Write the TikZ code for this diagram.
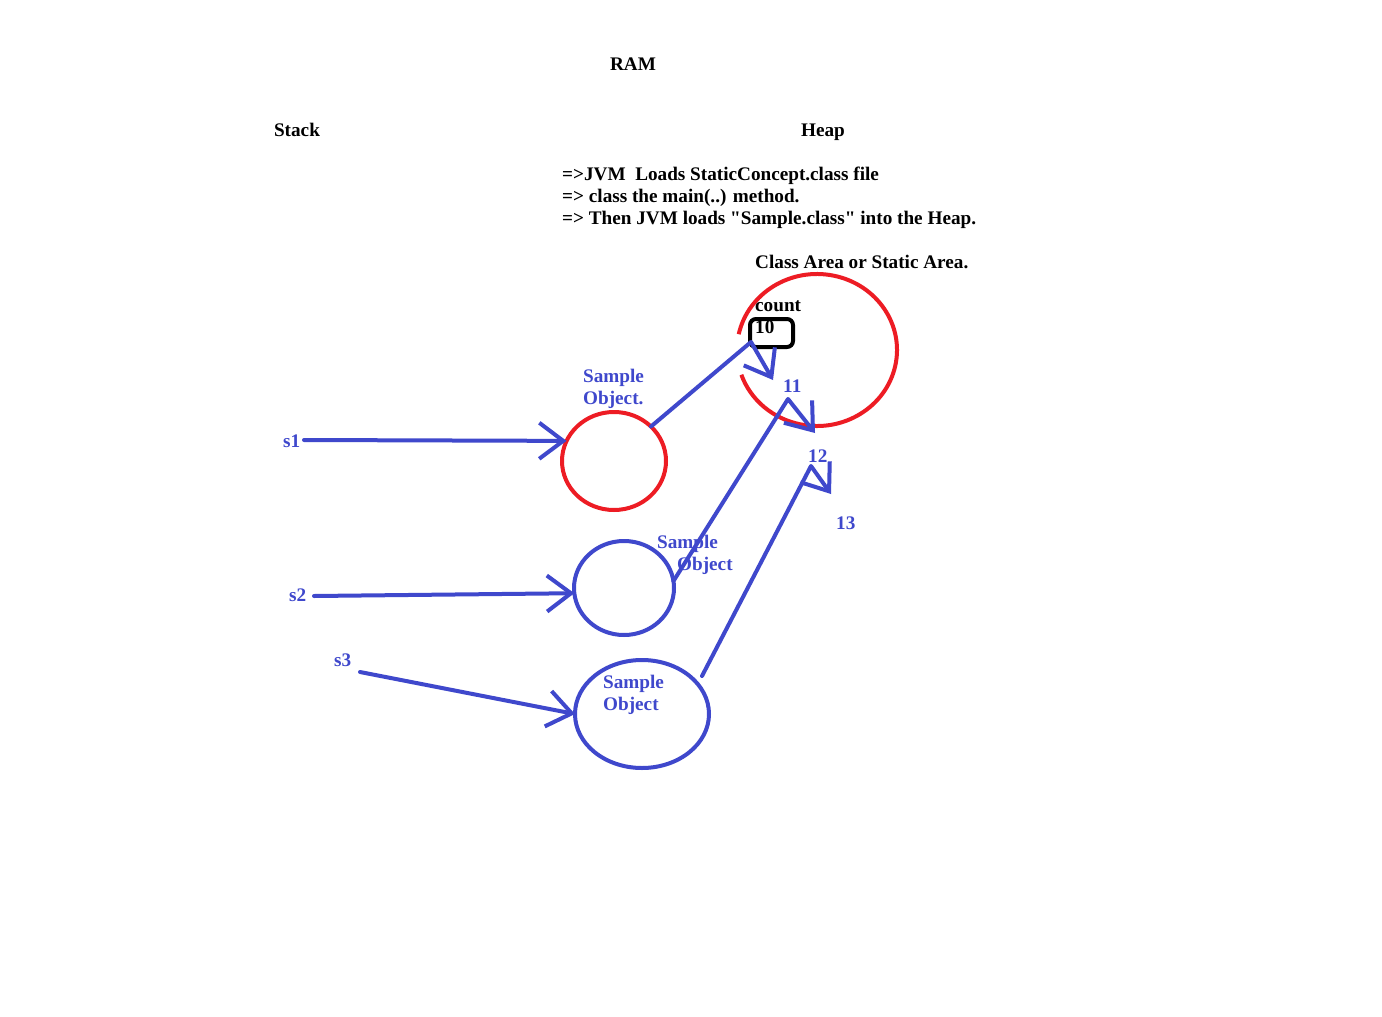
\documentclass[tikz,border=0pt]{standalone}
\usepackage{fontspec}
\setmainfont{Liberation Serif}[Ligatures=TeXOff]
\usetikzlibrary{arrows.meta,shapes.geometric}
\definecolor{pblue}{HTML}{3F48CC}
\definecolor{pred}{HTML}{ED1C24}
\begin{document}
\begin{tikzpicture}[x=1pt,y=-1pt,
  lbl/.style={inner sep=0pt, font=\fontsize{19.2}{22}\selectfont\bfseries, anchor=base west},
  blbl/.style={lbl, text=pblue},
  conn/.style={draw=pblue, line width=4pt, line cap=round, line join=round},
  arr/.style={conn, -{Straight Barb[length=24pt,width=36pt]}},
  ring/.style={ellipse, draw, line width=4pt, inner sep=0pt, outer sep=0pt}
]
\useasboundingbox (0,0) rectangle (1382,1017);
\fill[white] (0,0) rectangle (1382,1017);

% titles
\node[lbl, anchor=base] (ram) at (633,70) {RAM};
\node[lbl, anchor=base] (stack) at (297,136) {Stack};
\node[lbl, anchor=base] (heap) at (823,136) {Heap};
\node[lbl] (l1) at (562,180) {=>JVM\ \ Loads StaticConcept.class file};
\node[lbl] (l2) at (562,202) {=> class the main(..) method.};
\node[lbl] (l3) at (562,224) {=> Then JVM loads "Sample.class" into the Heap.};
\node[lbl] (area) at (755,268) {Class Area or Static Area.};

% class area
\draw[pred, line width=4pt] (817,350) ++(192:80 and 76)
  arc[start angle=192, end angle=521, x radius=80, y radius=76];
\node[draw, line width=4pt, rounded corners=6pt, minimum width=43pt, minimum height=28pt, inner sep=0pt] (box) at (771.5,333) {};
\node[lbl] (count) at (755,311) {count};
\node[lbl] (v10) at (755,333) {10};
\node[blbl] (v11) at (783,392) {11};
\node[blbl] (v12) at (808,462) {12};
\node[blbl] (v13) at (836,529) {13};

% objects
\node[ring, draw=pred, minimum width=104pt, minimum height=98pt] (o1) at (614,461) {};
\node[ring, draw=pblue, minimum width=100pt, minimum height=94pt] (o2) at (624,588) {};
\node[ring, draw=pblue, minimum width=134pt, minimum height=108pt] (o3) at (642,714) {};

\node[blbl] (t1a) at (583,382) {Sample};
\node[blbl] (t1b) at (583,404) {Object.};
\node[blbl] (t2a) at (657,548) {Sample};
\node[blbl] (t2b) at (677,570) {Object};
\node[blbl] (t3a) at (603,688) {Sample};
\node[blbl] (t3b) at (603,710) {Object};

% references
\node[blbl] (s1) at (283,447) {s1};
\node[blbl] (s2) at (289,601) {s2};
\node[blbl] (s3) at (334,666) {s3};

\coordinate (a1) at (304,440);
\coordinate (a2) at (314,596);
\coordinate (a3) at (360,672);
\draw[arr] (a1) -- (o1.157);
\draw[arr] (a2) -- (o2.186);
\draw[arr] (a3) -- (o3.west);

% count updates
\coordinate (k1) at (751,342);
\coordinate (tip11) at (773,380);
\coordinate (p11) at (788,399);
\coordinate (tip12) at (815,433);
\coordinate (c3) at (702,676);
\coordinate (p12) at (811,466);
\coordinate (tip13) at (831,494);

\draw[arr] (o1.43) -- (k1) -- (tip11);
\draw[arr] (o2.8) -- (p11) -- (tip12);
\draw[arr] (c3) -- (p12) -- (tip13);
\end{tikzpicture}
\end{document}
